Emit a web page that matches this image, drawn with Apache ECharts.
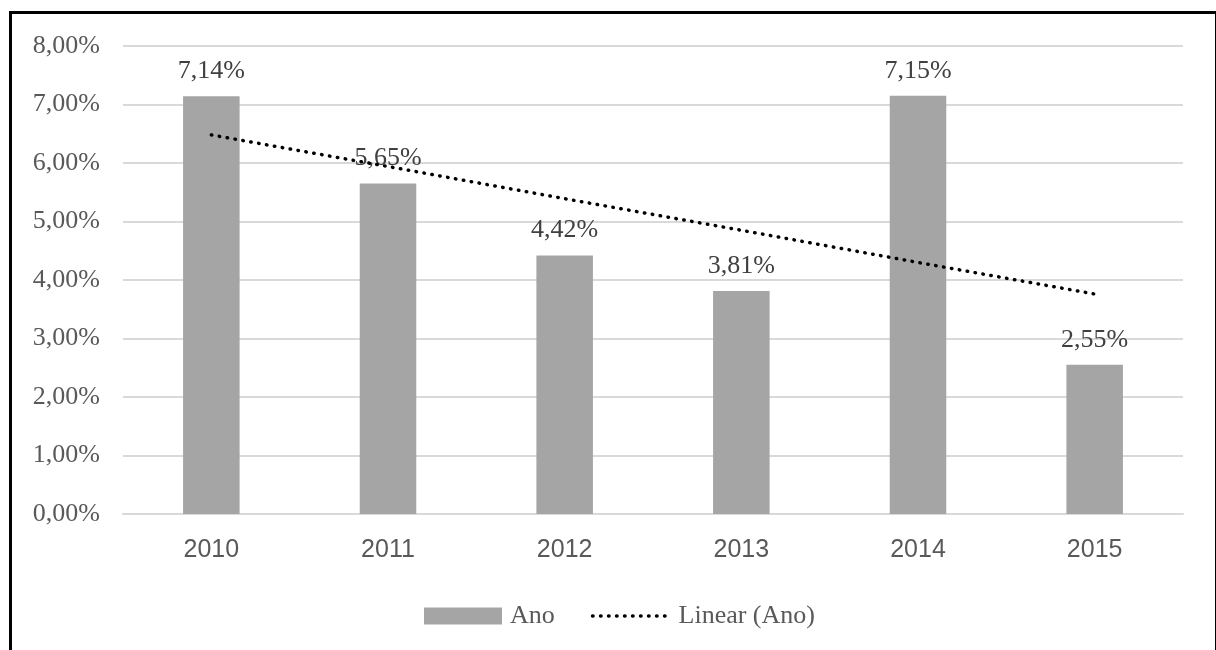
<!DOCTYPE html>
<html>
<head>
<meta charset="utf-8">
<script src="https://cdn.jsdelivr.net/npm/echarts@6/dist/echarts.min.js"></script>
<style>
  html, body { margin: 0; padding: 0; background: #fff; }
  #frame { position: absolute; left: 9px; top: 11px; width: 1203px; height: 660px;
           border-left: 3px solid #000; border-top: 3px solid #000; border-right: 1px solid #000; }
  #chart { position: absolute; left: 0; top: 0; width: 1216px; height: 650px; }
</style>
</head>
<body>
<div id="frame"></div>
<div id="chart"></div>
<script>
const categories = ['2010', '2011', '2012', '2013', '2014', '2015'];
const anoValues = [7.14, 5.65, 4.42, 3.81, 7.15, 2.55];
// trend line (Linear (Ano))
const trendValues = [6.48, 5.94, 5.39, 4.85, 4.30, 3.76];
const seriesNames = ['Ano', 'Linear (Ano)'];

const fmt = v => v.toFixed(2).replace('.', ',') + '%';
const dotted = { color: '#000', width: 3.5, type: [0.5, 7.5], cap: 'round' };

const chart = echarts.init(document.getElementById('chart'));
chart.setOption({
  backgroundColor: 'transparent',
  animation: false,
  grid: { left: 123, right: 33, top: 46, bottom: 136, containLabel: false },
  legend: {
    top: 598,
    left: 419,
    itemGap: 36,
    itemWidth: 78,
    itemHeight: 17,
    textStyle: { fontFamily: 'Liberation Serif', fontSize: 26, color: '#595959', padding: [0, 0, 0, 3] },
    data: [
      { name: seriesNames[0], icon: 'rect' },
      { name: seriesNames[1], itemStyle: { opacity: 0 }, lineStyle: dotted }
    ]
  },
  xAxis: {
    type: 'category',
    data: categories,
    axisTick: { show: false },
    axisLine: { show: true, lineStyle: { color: '#d9d9d9', width: 2 } },
    axisLabel: { fontFamily: 'Liberation Sans', fontSize: 25, color: '#595959', margin: 24 }
  },
  yAxis: {
    type: 'value',
    min: 0, max: 8, interval: 1,
    axisLine: { show: false },
    axisTick: { show: false },
    splitLine: { lineStyle: { color: '#d9d9d9', width: 2 } },
    axisLabel: { fontFamily: 'Liberation Serif', fontSize: 26, color: '#595959', margin: 23, formatter: fmt }
  },
  series: [
    {
      name: seriesNames[0],
      type: 'bar',
      data: anoValues,
      barWidth: '32%',
      itemStyle: { color: '#a5a5a5' },
      label: {
        show: true, position: 'top', distance: 12,
        fontFamily: 'Liberation Serif', fontSize: 26, color: '#404040',
        formatter: p => fmt(p.value)
      }
    },
    {
      name: seriesNames[1],
      type: 'line',
      data: trendValues,
      symbol: 'none',
      itemStyle: { color: '#000' },
      lineStyle: dotted,
      z: 5
    }
  ]
});
</script>
</body>
</html>
